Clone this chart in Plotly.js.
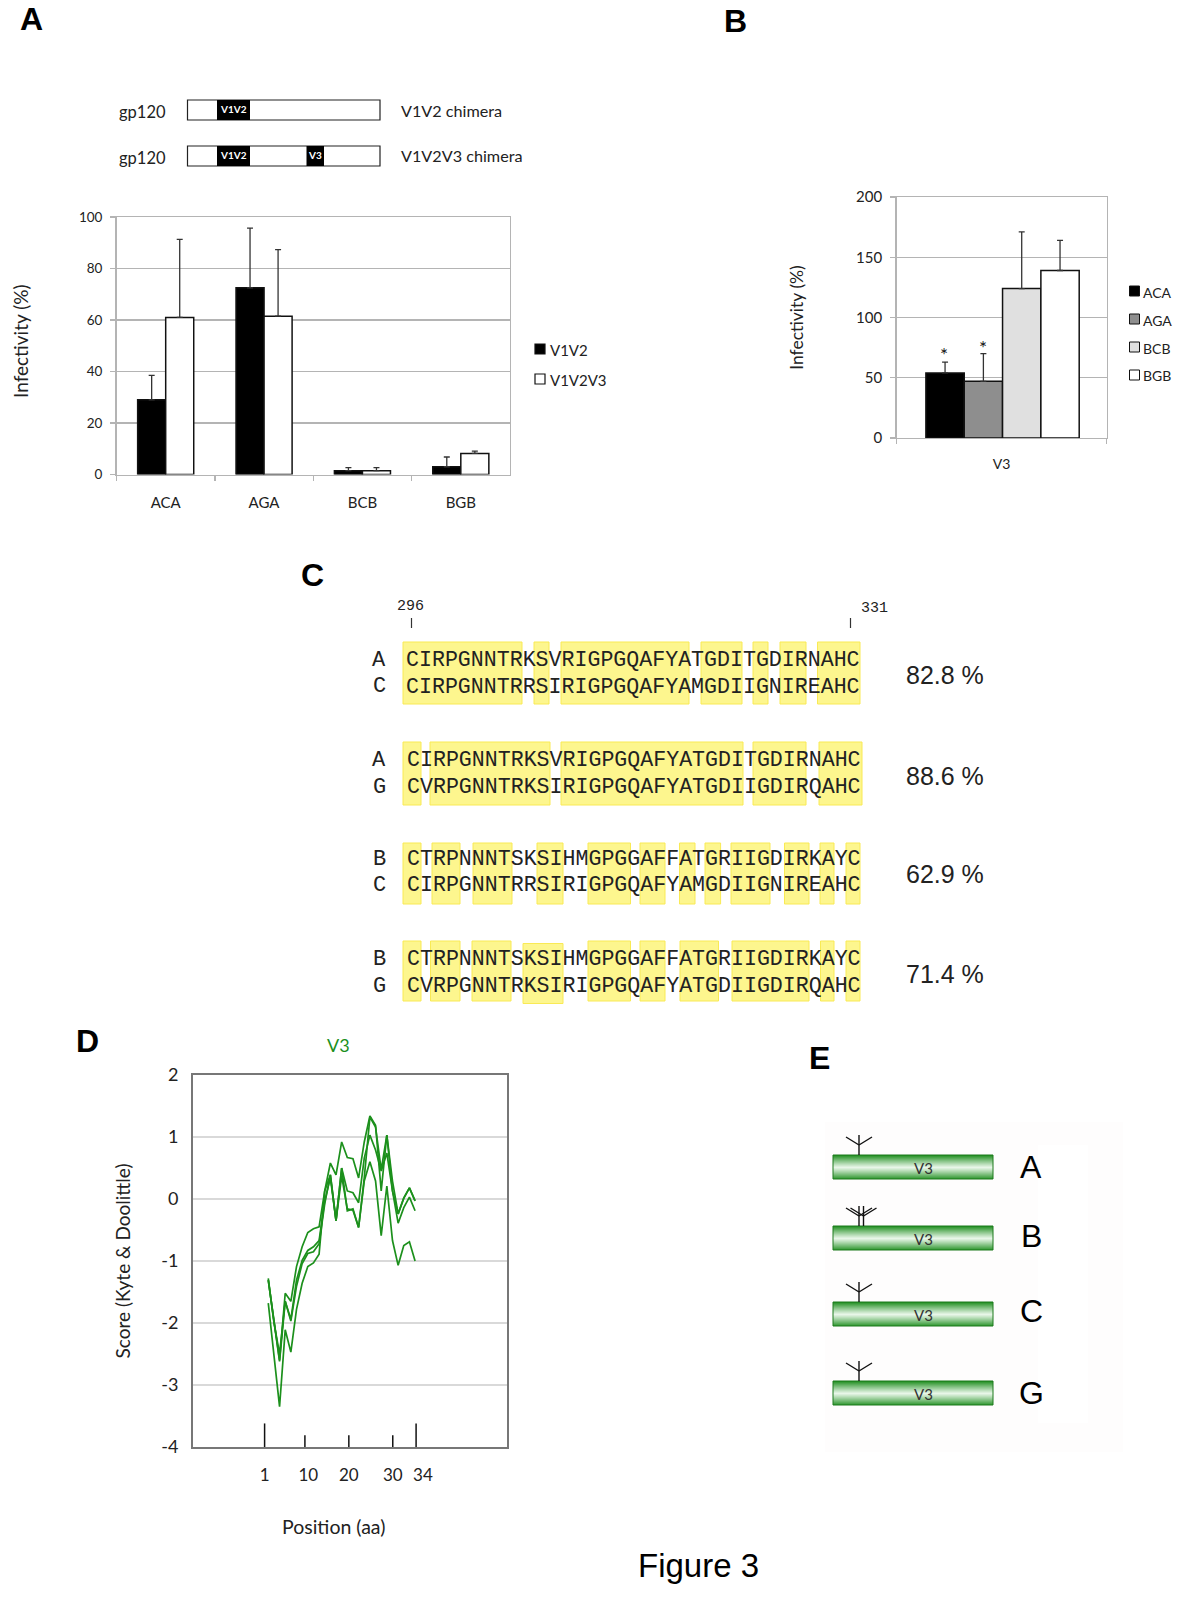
<!DOCTYPE html>
<html><head><meta charset="utf-8">
<script src="https://cdn.plot.ly/plotly-3.0.1.min.js"></script>
<style>html,body{margin:0;padding:0;background:#fff}</style></head>
<body><div id="chart" style="width:1200px;height:1615px"></div>
<script>
// ---------- Panel A ----------
const strainsA = ['ACA','AGA','BCB','BGB'];
const v1v2 = [29,72.5,1.5,3];
const v1v2Err = [9.5,23.2,1.2,3.8];
const v1v2v3 = [61,61.5,1.5,8.2];
const v1v2v3Err = [30.3,25.8,1.2,0.9];
// ---------- Panel B ----------
const catB = ['V3'];
const seriesB = ['ACA','AGA','BCB','BGB'];
const valuesB = [54,47,124,139];
const errorsB = [9,23,47,25];
const fillsB = ['#000000','#8e8e8e','#e0e0e0','#ffffff'];
// ---------- Panel C ----------
const alignments = [
 {a:'A',b:'C',s1:'CIRPGNNTRKSVRIGPGQAFYATGDITGDIRNAHC',s2:'CIRPGNNTRRSIRIGPGQAFYAMGDIIGNIREAHC',pct:'82.8 %'},
 {a:'A',b:'G',s1:'CIRPGNNTRKSVRIGPGQAFYATGDITGDIRNAHC',s2:'CVRPGNNTRKSIRIGPGQAFYATGDIIGDIRQAHC',pct:'88.6 %'},
 {a:'B',b:'C',s1:'CTRPNNNTSKSIHMGPGGAFFATGRIIGDIRKAYC',s2:'CIRPGNNTRRSIRIGPGQAFYAMGDIIGNIREAHC',pct:'62.9 %'},
 {a:'B',b:'G',s1:'CTRPNNNTSKSIHMGPGGAFFATGRIIGDIRKAYC',s2:'CVRPGNNTRKSIRIGPGQAFYATGDIIGDIRQAHC',pct:'71.4 %'}
];
// ---------- Panel D ----------
const windowIdx = [1,2,3,4,5,6,7,8,9,10,11,12,13,14,15,16,17,18,19,20,21,22,23,24,25,26,27];
const profile1 = [-1.68,-2.50,-3.35,-2.11,-2.47,-1.78,-1.36,-1.09,-1.03,-0.89,0.13,0.39,-0.35,0.50,-0.19,-0.16,-0.46,0.29,0.60,0.29,-0.59,0.21,-0.67,-1.07,-0.75,-0.69,-1.00];
const profile2 = [-1.31,-1.94,-2.60,-1.52,-1.65,-1.09,-0.77,-0.54,-0.48,-0.45,0.13,0.58,0.39,0.92,0.67,0.65,0.34,0.92,1.34,1.19,0.13,1.03,0.29,-0.24,0.01,0.18,-0.03];
const profile3 = [-1.31,-1.99,-2.62,-1.65,-1.94,-1.31,-0.99,-0.83,-0.77,-0.67,-0.03,0.34,-0.35,0.50,0.13,0.10,-0.06,0.66,1.03,0.79,0.45,0.74,0.13,-0.24,0.02,0.18,-0.03];
const profile4 = [-1.28,-1.99,-2.50,-1.65,-1.97,-1.41,-1.04,-0.88,-0.85,-0.72,-0.08,0.39,-0.35,0.37,-0.16,-0.18,-0.46,0.34,1.32,1.16,0.47,1.03,0.13,-0.39,-0.14,0.03,-0.19];
const posTickLabels = ['1','10','20','30','34'];
// ---------- Panel E ----------
const subtypes = ['A','B','C','G'];

const W=1200,H=1615;
const dx=(a,b)=>[a/W,b/W], dy=(t,b)=>[1-b/H,1-t/H];
const LATO='Lato, sans-serif', SANS='"Liberation Sans", Arial, sans-serif', MONO='"Liberation Mono", monospace';
const GREEN='#1c901c', TXT='#222';
const annotations=[], shapes=[];
function note(text,x,y,size,family,opts){annotations.push(Object.assign({text,x:x/W,y:1-y/H,xref:'paper',yref:'paper',showarrow:false,xanchor:'center',yanchor:'middle',borderpad:0,font:{size,family,color:TXT}},opts||{}));}
function box(x0,y0,x1,y1,fill,line,lw,layer){shapes.push({type:'rect',xref:'paper',yref:'paper',x0:x0/W,x1:x1/W,y0:1-y0/H,y1:1-y1/H,fillcolor:fill,line:{color:line||fill,width:lw||0},layer:layer||'below'});}
function seg(x0,y0,x1,y1,color,w){shapes.push({type:'line',xref:'paper',yref:'paper',x0:x0/W,x1:x1/W,y0:1-y0/H,y1:1-y1/H,line:{color,width:w},layer:'above'});}

// panel letters
[['A',31,19],['B',735,21],['C',312,575],['D',87,1041],['E',819,1058]].forEach(l=>note('<b>'+l[0]+'</b>',l[1],l[2],32,SANS,{font:{size:32,family:SANS,color:'#000'}}));

// A schematic
[[100,120,'V1V2 chimera',[[217,250,'V1V2']]],[146,166,'V1V2V3 chimera',[[217,250,'V1V2'],[306.5,324,'V3']]]].forEach(r=>{
  box(187.5,r[0],380,r[1],'#fff','#222',1.2);
  r[3].forEach(s=>{box(s[0],r[0],s[1],r[1],'#000');note('<b>'+s[2]+'</b>',(s[0]+s[1])/2,(r[0]+r[1])/2-1,10,LATO,{font:{size:10,family:LATO,color:'#fff'}});});
  note('gp120',142,(r[0]+r[1])/2+2,16.5,LATO);
  note(r[2],400,(r[0]+r[1])/2,16.2,LATO,{xanchor:'left'});
});
note('Infectivity (%)',21,341,19,LATO,{textangle:-90});

// legends of A and B
[[349,'V1V2','#000'],[379,'V1V2V3','#fff']].forEach(l=>{
  box(535,l[0]-5,545,l[0]+5,l[2],'#111',1.2,'above');
  note(l[1],549,l[0]+1,15,LATO,{xanchor:'left'});
});
seriesB.forEach((n,i)=>{
  const y=[291,319,347,375][i];
  box(1129.5,y-5,1139.5,y+5,fillsB[i],'#111',1,'above');
  note(n,1142,y+1,14,LATO,{xanchor:'left'});
});

// C
const boxesC=[
 {y:[642,704],x:[[403,522],[534,549],[561,689],[701,742],[753,768],[780,806],[817.5,860]]},
 {y:[742,805],x:[[403,421],[430,550],[561,743],[753,806],[819,862]]},
 {y:[843,904],x:[[403,421],[432,460],[473,512],[537,563],[588,630.5],[640,665],[679.5,695],[705,720.6],[731,770],[784.5,809],[820,834],[846,860]]},
 {y:[941,1001],x:[[403,421],[430.5,460],[472,511],[523,563],[588,630.5],[640,665],[680,718.5],[732,809],[820.5,834],[846,860]]}
];
boxesC.forEach((r,i)=>r.x.forEach(s=>{
  const off=(i===3&&s[0]===523)?2.5:0;
  box(s[0],r.y[0]+off,s[1],r.y[1]+off,'#fdf68e','#f9ea55',1);
}));
const rowsC=[[660,687,675,404.5],[760,787,775.5,406],[859,885,873.5,406],[959,986,973.5,406]];
alignments.forEach((al,i)=>{
  const r=rowsC[i];
  note(al.a,379,r[0],22,MONO); note(al.b,379,r[1],22,MONO);
  note(al.s1,r[3],r[0],21.6,MONO,{xanchor:'left'});
  note(al.s2,r[3],r[1],21.6,MONO,{xanchor:'left'});
  note(al.pct,904.5,r[2],25,SANS,{xanchor:'left'});
});
note('296',410,606,15,MONO); note('331',874,608,15,MONO);
seg(411.5,618,411.5,628,'#333',1.2); seg(850.5,618,850.5,628,'#333',1.2);

// D annotations
note('V3',338,1045,18,LATO,{font:{size:18,family:LATO,color:GREEN}});
note('Position (aa)',333,1526,19.5,LATO);
note('Figure 3',698,1565,33,SANS,{font:{size:33,family:SANS,color:'#000'}});

// D tick marks, placed on the axis of window positions
const tickMarks=[[0.35,-3.62],[7.49,-3.81],[15.27,-3.81],[23.05,-3.81],[27.18,-3.62]];
tickMarks.forEach(t=>shapes.push({type:'line',xref:'x3',yref:'y3',x0:t[0],x1:t[0],y0:-4,y1:t[1],line:{color:'#111',width:1.5},layer:'above'}));

// E
box(825,1122,1123,1452,'#fefdfd'); box(1038,1145,1088,1423,'#ffffff');
const rowsE=[[1155,1179,1167],[1226,1250,1236],[1302,1326,1311],[1381,1405,1393]];
rowsE.forEach((r,i)=>{
  const h=r[1]-r[0];
  for(let k=0;k<h;k++){
    const t=Math.abs((k+0.5)/h-0.52)/0.52;
    const g=Math.pow(t,1.1);
    const c='rgb('+Math.round(232-205*g)+','+Math.round(246-106*g)+','+Math.round(232-205*g)+')';
    box(833,r[0]+k,993,r[0]+k+1,c);
  }
  box(833,r[0],993,r[1],'rgba(0,0,0,0)','#1d7a1d',1,'above');
  note('V3',923,(r[0]+r[1])/2+1,15,LATO,{font:{size:15,family:LATO,color:'#333'}});
  note(subtypes[i],1031,r[2],32,SANS,{font:{size:32,family:SANS,color:'#000'}});
  const stems=i===1?[859,863.5]:[859];
  stems.forEach(x=>{
    seg(x,r[0],x,r[0]-20,'#111',1.4);
    seg(x,r[0]-10,x-13,r[0]-18,'#111',1.4);
    seg(x,r[0]-10,x+13,r[0]-18,'#111',1.4);
  });
});

const errA=a=>({type:'data',symmetric:false,array:a,arrayminus:a.map(()=>0),thickness:1.3,width:3,color:'#333'});
const line={color:'#111',width:1.5};
const traces=[
 {type:'bar',name:'V1V2',x:strainsA,y:v1v2,xaxis:'x',yaxis:'y',width:0.285,offset:-0.285,marker:{color:'#000',line},error_y:errA(v1v2Err)},
 {type:'bar',name:'V1V2V3',x:strainsA,y:v1v2v3,xaxis:'x',yaxis:'y',width:0.285,offset:0,marker:{color:'#fff',line},error_y:errA(v1v2v3Err)}
];
seriesB.forEach((n,i)=>traces.push({type:'bar',name:n,x:catB,y:[valuesB[i]],xaxis:'x2',yaxis:'y2',width:0.1825,offset:-0.36+i*0.1825,marker:{color:fillsB[i],line},error_y:errA([errorsB[i]])}));
[profile1,profile2,profile3,profile4].forEach((p,i)=>traces.push({type:'scatter',mode:'lines',name:'Subtype '+subtypes[i],x:windowIdx,y:p,xaxis:'x3',yaxis:'y3',line:{color:GREEN,width:1.7}}));

// asterisks
[[-0.273,69],[-0.089,74.7]].forEach(a=>annotations.push({text:'*',x:a[0],y:a[1],xref:'x2',yref:'y2',showarrow:false,font:{size:19,family:LATO,color:'#111'},yanchor:'middle',xanchor:'center'}));

const GRID='#b4b4b4';
const axBase={showline:true,linecolor:GRID,linewidth:1.4,mirror:true,zeroline:false,ticks:'outside',tickcolor:GRID,ticklen:5,tickwidth:1.4};
const layout={
 width:W,height:H,margin:{l:0,r:0,t:0,b:0},paper_bgcolor:'#fff',plot_bgcolor:'rgba(0,0,0,0)',showlegend:false,barmode:'group',bargap:0,bargroupgap:0,
 font:{family:LATO,color:TXT},
 annotations,shapes,
 xaxis:Object.assign({},axBase,{domain:dx(116.5,510),anchor:'y',type:'category',tickson:'boundaries',range:[-0.5,3.5],showgrid:false,tickfont:{size:15,family:LATO,color:TXT},ticklabelstandoff:14}),
 yaxis:Object.assign({},axBase,{domain:dy(217,474.5),anchor:'x',range:[0,100],tickvals:[0,20,40,60,80,100],showgrid:true,gridcolor:GRID,gridwidth:1.3,tickfont:{size:13.5,family:LATO,color:TXT},ticklabelstandoff:5}),
 xaxis2:Object.assign({},axBase,{domain:dx(896.5,1106.5),anchor:'y2',type:'category',tickson:'boundaries',range:[-0.5,0.5],showgrid:false,tickfont:{size:14,family:LATO,color:TXT},ticklabelstandoff:13}),
 yaxis2:Object.assign({},axBase,{domain:dy(197,438),anchor:'x2',range:[0,200],tickvals:[0,50,100,150,200],showgrid:true,gridcolor:GRID,gridwidth:1.3,tickfont:{size:15,family:LATO,color:TXT},ticklabelstandoff:5,title:{text:'Infectivity (%)',font:{size:17.5,family:LATO,color:TXT},standoff:48}}),
 xaxis3:{domain:dx(193,507),anchor:'y3',range:[-12.33,43.28],showline:true,linecolor:'#777',linewidth:2,mirror:true,showgrid:false,zeroline:false,ticks:'',tickvals:[0.35,8.1,15.27,23.05,28.4],ticktext:posTickLabels,tickfont:{size:17,family:LATO,color:TXT},ticklabelstandoff:12},
 yaxis3:{domain:dy(1075,1447),anchor:'x3',range:[-4,2],showline:true,linecolor:'#777',linewidth:2,mirror:true,showgrid:true,gridcolor:'#d9d9d9',gridwidth:1.8,zeroline:false,ticks:'',tickvals:[-4,-3,-2,-1,0,1,2],ticktext:['-4','-3','-2','-1','0','1','2'],tickfont:{size:18,family:LATO,color:TXT},ticklabelstandoff:9,title:{text:'Score (Kyte &amp; Doolittle)',font:{size:19,family:LATO,color:TXT},standoff:26}}
};
Plotly.newPlot('chart',traces,layout,{staticPlot:true,displayModeBar:false});
</script></body></html>
